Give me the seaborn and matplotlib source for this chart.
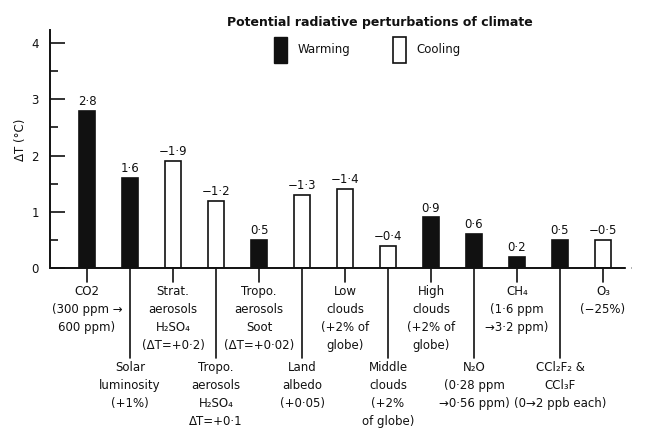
import matplotlib
matplotlib.use("Agg")
import matplotlib.pyplot as plt
from matplotlib.patches import Patch
import seaborn as sns
import pandas as pd

# values (bar height = |dT|)
agents = ['CO2', 'Solar', 'Strat H2SO4', 'Tropo H2SO4', 'Soot', 'Land albedo', 'Low clouds',
          'Middle clouds', 'High clouds', 'N2O', 'CH4', 'CFCs', 'O3']
dT = [2.8, 1.6, 1.9, 1.2, 0.5, 1.3, 1.4, 0.4, 0.9, 0.6, 0.2, 0.5, 0.5]
effect = ['Warming', 'Warming', 'Cooling', 'Cooling', 'Warming', 'Cooling', 'Cooling',
          'Cooling', 'Warming', 'Warming', 'Warming', 'Warming', 'Cooling']
bar_text = ['2·8', '1·6', '−1·9', '−1·2', '0·5', '−1·3', '−1·4', '−0·4', '0·9', '0·6', '0·2', '0·5', '−0·5']
agent_text = [
    'CO2\n(300 ppm →\n600 ppm)',
    'Solar\nluminosity\n(+1%)',
    'Strat.\naerosols\nH₂SO₄\n(ΔT=+0·2)',
    'Tropo.\naerosols\nH₂SO₄\nΔT=+0·1',
    'Tropo.\naerosols\nSoot\n(ΔT=+0·02)',
    'Land\nalbedo\n(+0·05)',
    'Low\nclouds\n(+2% of\nglobe)',
    'Middle\nclouds\n(+2%\nof globe)',
    'High\nclouds\n(+2% of\nglobe)',
    'N₂O\n(0·28 ppm\n→0·56 ppm)',
    'CH₄\n(1·6 ppm\n→3·2 ppm)',
    'CCl₂F₂ &\nCCl₃F\n(0→2 ppb each)',
    'O₃\n(−25%)',
]

df = pd.DataFrame({'agent': agents, 'dT': dT, 'effect': effect})

sns.set_style('ticks')
plt.rcParams['font.family'] = ['DejaVu Sans']
plt.rcParams['text.color'] = '#111111'
plt.rcParams['axes.labelcolor'] = '#111111'
plt.rcParams['ytick.color'] = '#111111'

fig = plt.figure(figsize=(6.5, 4.34), dpi=100)
ax = fig.add_axes([0.077, 0.3825, 0.895, 0.548])

sns.barplot(data=df, x='agent', y='dT', hue='effect', dodge=False, width=0.37,
            palette={'Warming': '#111111', 'Cooling': 'white'}, edgecolor='#111111',
            linewidth=1.2, legend=False, ax=ax)

ax.set_xlim(-0.86, 12.67)
ax.set_ylim(0, 4.23)
for s in ['top', 'right', 'bottom']:
    ax.spines[s].set_visible(False)
ax.spines['left'].set_linewidth(1.4)
ax.spines['left'].set_color('#111111')

# baseline: solid up to the O3 bar, then a short dashed tail
ax.plot([-0.86, 12.4], [0, 0], color='#111111', lw=1.4, clip_on=False, solid_capstyle='butt')
ax.plot([12.4, 12.67], [0, 0], color='#111111', lw=1.4, ls=(0, (3, 3)), clip_on=False)

ax.set_xticks([])
ax.set_xlabel('')
ax.set_yticks([0, 1, 2, 3, 4])
ax.set_yticks([0.5, 1.5, 2.5, 3.5], minor=True)
ax.tick_params(axis='y', which='major', direction='in', length=11, width=1.2, labelsize=8.5, pad=8)
ax.tick_params(axis='y', which='minor', direction='in', length=6, width=1.2)
ax.set_ylabel('ΔT (°C)', fontsize=8.5)
ax.yaxis.set_label_coords(-0.04, 0.54)

# value labels above bars
for i, (v, t) in enumerate(zip(dT, bar_text)):
    ax.text(i, v + 0.05, t, ha='center', va='bottom', fontsize=8.5)

# agent labels below the axis, alternating rows
for i, t in enumerate(agent_text):
    if i % 2 == 0:
        ax.plot([i, i], [0, -0.25], color='#111111', lw=1.2, clip_on=False)
        ax.text(i, -0.3, t, ha='center', va='top', fontsize=8.5, linespacing=1.5, clip_on=False)
    else:
        ax.plot([i, i], [0, -1.6], color='#111111', lw=1.2, clip_on=False)
        ax.text(i, -1.65, t, ha='center', va='top', fontsize=8.5, linespacing=1.5, clip_on=False)

fig.text(0.585, 0.949, 'Potential radiative perturbations of climate', ha='center', va='center',
         fontsize=9, fontweight='bold')

handles = [Patch(facecolor='#111111', edgecolor='#111111', label='Warming'),
           Patch(facecolor='white', edgecolor='#111111', linewidth=1.2, label='Cooling')]
fig.legend(handles=handles, loc='center left', bbox_to_anchor=(0.405, 0.885), ncol=2,
           frameon=False, handlelength=1.1, handleheight=3.0, columnspacing=3.6,
           handletextpad=0.9, fontsize=8.5)

fig.savefig('out.png', dpi=100)
